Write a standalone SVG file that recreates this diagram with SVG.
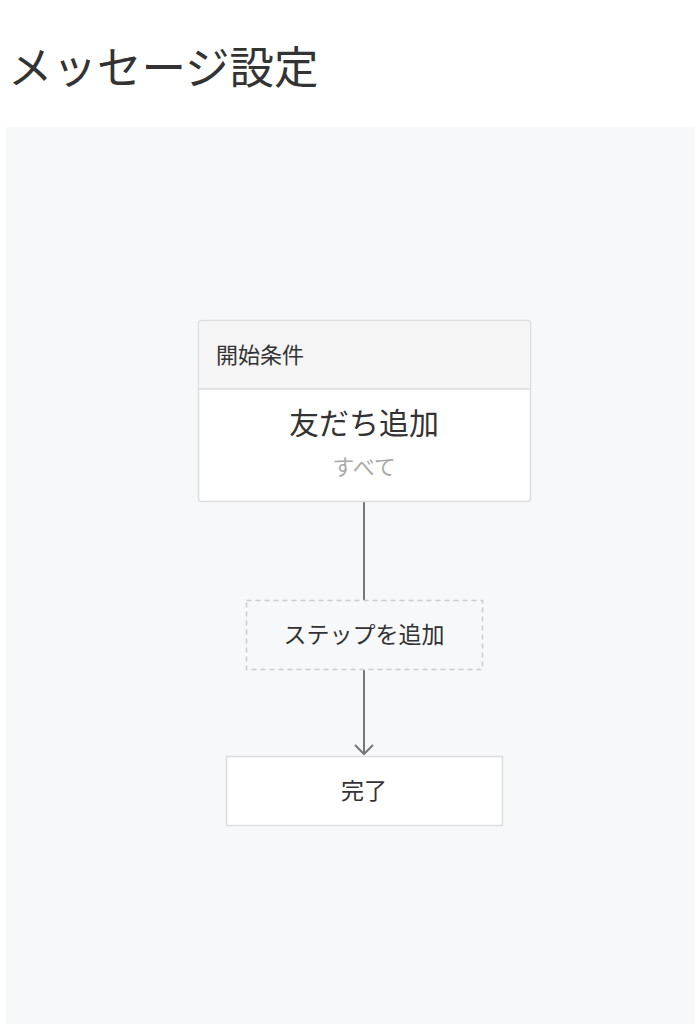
<svg xmlns="http://www.w3.org/2000/svg" width="695" height="1024" viewBox="0 0 695 1024">
<defs>
<style>
text{font-family:"Noto Sans CJK JP","Noto Sans",sans-serif;fill:#333}
.box{fill:#fff;stroke:#ddd;stroke-width:1.5}
.conn{stroke:#777;stroke-width:2;fill:none}
</style>
<marker id="arr" viewBox="0 0 20 20" refX="18" refY="10" markerWidth="20" markerHeight="20" markerUnits="userSpaceOnUse" orient="auto">
<path d="M9 1 L18 10 L9 19" fill="none" stroke="#777" stroke-width="2"/>
</marker>
</defs>
<rect width="695" height="1024" fill="#fff"/>
<text x="8" y="84" font-size="44.5" style="fill:#333">メッセージ設定</text>
<rect x="6" y="127" width="689" height="897" fill="#f7f8fa"/>
<g id="connectors">
<line class="conn" x1="364" y1="502" x2="364" y2="600"/>
<line class="conn" x1="364" y1="670" x2="364" y2="754" marker-end="url(#arr)"/>
</g>
<g id="start">
<rect class="box" x="198.5" y="320.5" width="332" height="181" rx="3"/>
<path d="M199.5 389 V323 a2 2 0 0 1 2 -2 H527.5 a2 2 0 0 1 2 2 V389 Z" fill="#f5f5f5"/>
<line x1="199" y1="389" x2="530" y2="389" stroke="#ddd" stroke-width="1.5"/>
<text x="216" y="363" font-size="22">開始条件</text>
<text x="364" y="434" font-size="30" text-anchor="middle">友だち追加</text>
<text x="364" y="475" font-size="22" text-anchor="middle" style="fill:#aaa">すべて</text>
</g>
<g id="step">
<rect x="246.5" y="600.5" width="236" height="69" fill="#f7f8fa" stroke="#ccc" stroke-width="1.5" stroke-dasharray="5,4"/>
<text x="364" y="643" font-size="23" text-anchor="middle">ステップを追加</text>
</g>
<g id="done">
<rect class="box" x="226.5" y="756.5" width="276" height="69"/>
<text x="364" y="799" font-size="23" text-anchor="middle">完了</text>
</g>
</svg>
